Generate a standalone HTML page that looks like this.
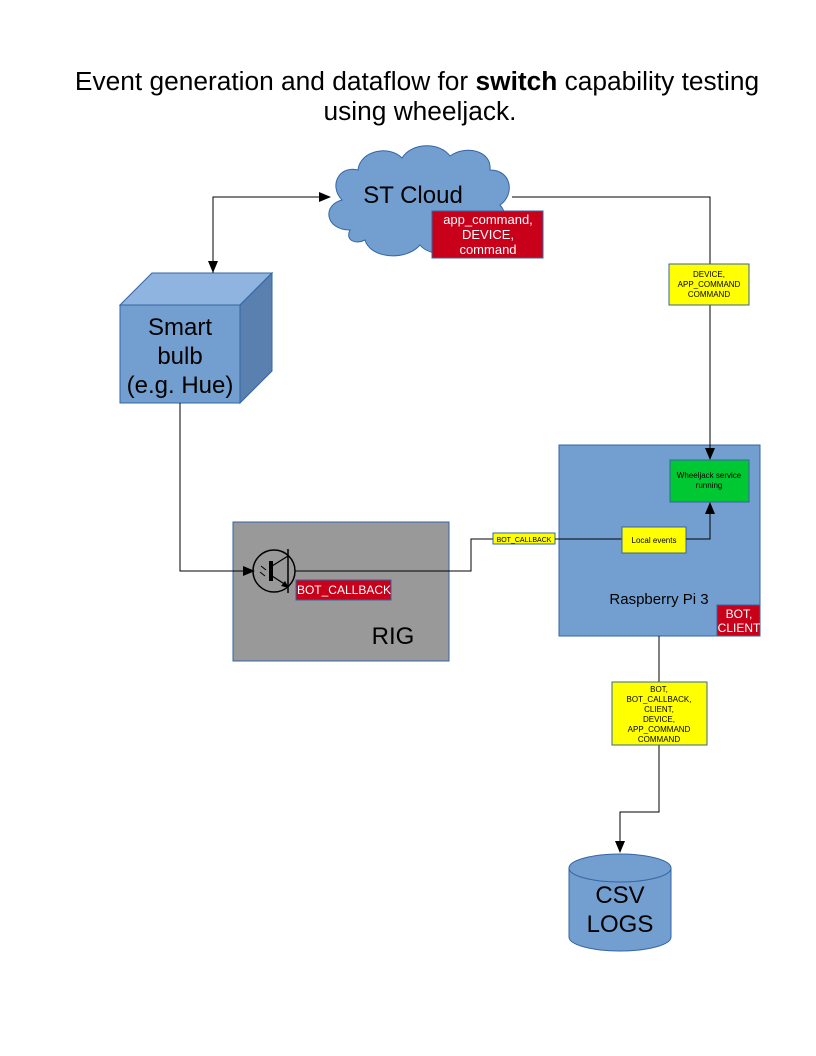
<!DOCTYPE html>
<html><head><meta charset="utf-8"><style>
body{margin:0;background:#fff}
svg{display:block}
text{font-family:"Liberation Sans",sans-serif}
</style></head><body>
<svg width="816" height="1056" viewBox="0 0 816 1056" xmlns="http://www.w3.org/2000/svg">
<defs><marker id="a" markerWidth="12" markerHeight="10" refX="11" refY="5" orient="auto" markerUnits="userSpaceOnUse"><path d="M0,0 L12,5 L0,10 z" fill="#000"/></marker></defs>
<text x="417" y="90" font-size="26.3" text-anchor="middle">Event generation and dataflow for <tspan font-weight="bold">switch</tspan> capability testing</text>
<text x="420" y="120" font-size="26.3" text-anchor="middle">using wheeljack.</text>
<!-- cloud -->
<path d="M350,230 C325,230 322,205 342,200 C328,185 340,165 358,170 C360,150 390,145 402,158 C412,142 440,142 450,156 C465,145 492,150 490,170 C512,170 515,195 500,205 C515,222 495,245 475,238 C465,258 430,258 420,245 C405,262 370,258 365,240 C355,245 345,240 350,230 z" fill="#729fcf" stroke="#3465a4"/>
<text x="413" y="203" font-size="24" text-anchor="middle">ST Cloud</text>
<rect x="432" y="211" width="111" height="47" fill="#c9001a" stroke="#3465a4"/>
<text fill="#fff" font-size="13" text-anchor="middle"><tspan x="488" y="224">app_command,</tspan><tspan x="488" y="239">DEVICE,</tspan><tspan x="488" y="254">command</tspan></text>
<!-- smart bulb -->
<polygon points="120,305 152,273 272,273 240,305" fill="#8fb4e0" stroke="#3465a4"/>
<polygon points="240,305 272,273 272,371 240,403" fill="#5a80b0" stroke="#3465a4"/>
<rect x="120" y="305" width="120" height="98" fill="#729fcf" stroke="#3465a4"/>
<text font-size="24" text-anchor="middle"><tspan x="180" y="335">Smart</tspan><tspan x="180" y="364">bulb</tspan><tspan x="180" y="393">(e.g. Hue)</tspan></text>
<!-- RIG -->
<rect x="233" y="522" width="216" height="139" fill="#999" stroke="#3465a4"/>
<text x="393" y="644" font-size="24" text-anchor="middle">RIG</text>
<!-- RPi -->
<rect x="559" y="445" width="201" height="191" fill="#729fcf" stroke="#3465a4"/>
<!-- connectors -->
<polyline points="213,273 213,197 330,197" fill="none" stroke="#000" marker-end="url(#a)"/>
<line x1="213" y1="200" x2="213" y2="272" stroke="#000" marker-end="url(#a)"/>
<polyline points="512,197 710,197 710,459" fill="none" stroke="#000" marker-end="url(#a)"/>
<rect x="669" y="264" width="80" height="41" fill="#ff0" stroke="#3465a4"/>
<text font-size="8" text-anchor="middle"><tspan x="709" y="277">DEVICE,</tspan><tspan x="709" y="287">APP_COMMAND</tspan><tspan x="709" y="297">COMMAND</tspan></text>
<polyline points="180,403 180,571 254,571" fill="none" stroke="#000" marker-end="url(#a)"/>
<circle cx="274" cy="571" r="21" fill="none" stroke="#000" stroke-width="1.5"/>
<line x1="271" y1="561" x2="271" y2="581" stroke="#000" stroke-width="4"/>
<line x1="272" y1="566" x2="288" y2="556" stroke="#000" stroke-width="1.3"/>
<line x1="272" y1="576" x2="286" y2="585" stroke="#000" stroke-width="1.3"/>
<path d="M289,588 L281,586 L285,581 z" fill="#000"/>
<line x1="288" y1="549" x2="288" y2="593" stroke="#000" stroke-width="1.5"/>
<line x1="261" y1="566" x2="266" y2="570" stroke="#000"/><line x1="260" y1="572" x2="265" y2="576" stroke="#000"/>
<polyline points="295,571 471,571 471,539 493,539" fill="none" stroke="#000"/>
<rect x="296" y="580" width="95" height="20" fill="#c9001a" stroke="#3465a4"/>
<text x="344" y="594" font-size="12" fill="#fff" text-anchor="middle">BOT_CALLBACK</text>
<rect x="493" y="533" width="62" height="11" fill="#ff0" stroke="#3465a4"/>
<text x="524" y="542" font-size="7" text-anchor="middle">BOT_CALLBACK</text>
<line x1="555" y1="539" x2="623" y2="539" stroke="#000"/>
<rect x="670" y="460" width="79" height="42" fill="#00c832" stroke="#3465a4"/>
<text font-size="8" text-anchor="middle"><tspan x="709" y="478">Wheeljack service</tspan><tspan x="709" y="488">running</tspan></text>
<rect x="622" y="527" width="64" height="26" fill="#ff0" stroke="#3465a4"/>
<text x="654" y="543" font-size="8" text-anchor="middle">Local events</text>
<polyline points="686,539 710,539 710,503" fill="none" stroke="#000" marker-end="url(#a)"/>
<text x="659" y="604" font-size="15" text-anchor="middle">Raspberry Pi 3</text>
<rect x="717" y="605" width="43" height="31" fill="#c9001a" stroke="#3465a4"/>
<text font-size="12" fill="#fff" text-anchor="middle"><tspan x="739" y="618">BOT,</tspan><tspan x="739" y="632">CLIENT</tspan></text>
<!-- logs connector -->
<polyline points="659,636 659,812 620,812 620,852" fill="none" stroke="#000" marker-end="url(#a)"/>
<rect x="612" y="682" width="95" height="63" fill="#ff0" stroke="#3465a4"/>
<text font-size="8" text-anchor="middle"><tspan x="659" y="692">BOT,</tspan><tspan x="659" y="702">BOT_CALLBACK,</tspan><tspan x="659" y="712">CLIENT,</tspan><tspan x="659" y="722">DEVICE,</tspan><tspan x="659" y="732">APP_COMMAND</tspan><tspan x="659" y="742">COMMAND</tspan></text>
<!-- cylinder -->
<path d="M569,868 L569,937 A51,14 0 0 0 671,937 L671,868" fill="#729fcf" stroke="#3465a4"/>
<ellipse cx="620" cy="868" rx="51" ry="14" fill="#729fcf" stroke="#3465a4"/>
<text font-size="24" text-anchor="middle"><tspan x="620" y="903">CSV</tspan><tspan x="620" y="932">LOGS</tspan></text>
</svg>
</body></html>
